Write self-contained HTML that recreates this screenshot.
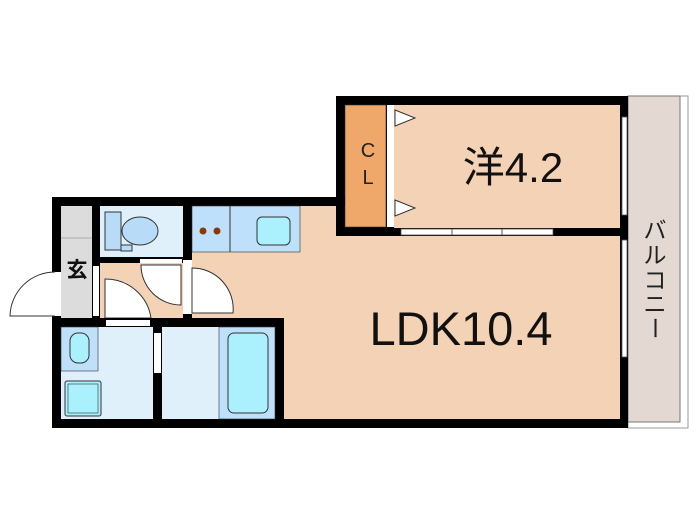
<!DOCTYPE html>
<html><head><meta charset="utf-8"><style>body{margin:0;background:#fff}svg{display:block}</style></head><body>
<svg width="700" height="525" viewBox="0 0 700 525" xmlns="http://www.w3.org/2000/svg" font-family="Liberation Sans, Noto Sans CJK JP, sans-serif">
<rect x="628" y="96" width="60" height="332" fill="#fff" stroke="#999" stroke-width="1"/>
<rect x="628" y="96" width="52" height="326" fill="#e3d9d2" stroke="#777" stroke-width="1"/>
<rect x="192" y="206" width="430" height="214" fill="#f4d2b6"/>
<rect x="336" y="96" width="292" height="140" fill="#000"/>
<rect x="394" y="105" width="226" height="123" fill="#f4d2b6"/>
<rect x="345" y="105" width="41" height="122" fill="#f0a86a" stroke="#333" stroke-width="0.6"/>
<rect x="387" y="105" width="7" height="122" fill="#fff"/>
<polygon points="395,110 415,118 395,126" fill="#fff" stroke="#333"/>
<polygon points="395,200 415,208 395,216" fill="#fff" stroke="#333"/>
<rect x="401" y="229" width="152" height="6" fill="#fff" stroke="#555" stroke-width="0.8"/>
<line x1="452" y1="229" x2="452" y2="235" stroke="#555"/><line x1="502" y1="229" x2="502" y2="235" stroke="#555"/>
<rect x="622" y="117" width="5" height="98" fill="#fff" stroke="#555" stroke-width="0.8"/>
<rect x="183" y="197" width="162" height="9" fill="#000"/>
<rect x="620" y="236" width="8" height="192" fill="#000"/>
<rect x="622" y="240" width="5" height="117" fill="#fff" stroke="#555" stroke-width="0.8"/>
<rect x="52" y="419" width="576" height="9" fill="#000"/>
<rect x="52" y="197" width="140" height="9" fill="#000"/>
<rect x="52" y="197" width="9" height="231" fill="#000"/>
<rect x="53" y="272" width="8" height="44" fill="#fff"/>
<path d="M55,316 L10,316 A45,45 0 0 1 55,272" fill="#fff" stroke="#333" stroke-width="1"/>
<rect x="61" y="206" width="31" height="112" fill="#dcdcdc"/>
<line x1="61" y1="238" x2="92" y2="238" stroke="#aaa"/>
<text x="77" y="277" font-size="21" text-anchor="middle" fill="#111" font-weight="bold">玄</text>
<rect x="92" y="206" width="8" height="112" fill="#000"/>
<rect x="93" y="266" width="6" height="50" fill="#fff"/>
<rect x="100" y="206" width="83" height="54" fill="#dff0fb"/>
<rect x="100" y="257" width="83" height="6" fill="#000"/>
<rect x="140" y="259" width="42" height="6" fill="#fff"/>
<rect x="105" y="212" width="16" height="38" fill="#b8dcf7" stroke="#333"/>
<ellipse cx="140" cy="231" rx="18" ry="14" fill="#b8dcf7" stroke="#333"/>
<rect x="121" y="245" width="11" height="6" fill="#b8dcf7" stroke="#333"/>
<rect x="100" y="263" width="83" height="55" fill="#f4d2b6"/>
<path d="M141,265 A40,40 0 0 0 181,305 L181,265 Z" fill="#fff" stroke="#333"/>
<rect x="183" y="206" width="9" height="54" fill="#000"/>
<rect x="183" y="314" width="9" height="10" fill="#000"/>
<rect x="184" y="268" width="7" height="45" fill="#fff"/>
<path d="M192,268 A41,41 0 0 1 233,313 L192,313 Z" fill="#fff" stroke="#333"/>
<path d="M105,279 A46,46 0 0 1 151,318 L105,318 Z" fill="#fff" stroke="#333"/>
<rect x="192" y="206" width="108" height="46" fill="#bfe0fa" stroke="#333" stroke-width="0.6"/>
<line x1="230" y1="206" x2="230" y2="252" stroke="#333"/>
<circle cx="203" cy="231" r="3.5" fill="#8a3a0a"/><circle cx="217" cy="231" r="3.5" fill="#8a3a0a"/>
<rect x="257" y="217" width="33" height="28" rx="5" fill="#aaf0fd" stroke="#333"/>
<rect x="52" y="318" width="232" height="9" fill="#000"/>
<rect x="106" y="320" width="44" height="6" fill="#fff"/>
<rect x="275" y="318" width="9" height="110" fill="#000"/>
<rect x="61" y="327" width="92" height="92" fill="#dff0fb"/>
<rect x="61" y="327" width="37" height="44" fill="#bfe0fa" stroke="#333" stroke-width="0.6"/>
<rect x="70" y="333" width="19" height="30" rx="8" fill="#aaf0fd" stroke="#333"/>
<rect x="65" y="381" width="36" height="35" rx="2" fill="#aaf0fd" stroke="#333"/>
<rect x="68" y="384" width="30" height="29" fill="#aaf0fd" stroke="#333" stroke-width="0.6"/>
<rect x="153" y="327" width="9" height="92" fill="#000"/>
<rect x="154" y="333" width="7" height="40" fill="#fff"/>
<polygon points="163,333 178,338 163,343" fill="#fff" stroke="#333"/>
<rect x="162" y="327" width="113" height="92" fill="#dff0fb"/>
<rect x="219" y="327" width="56" height="92" fill="#bfe0fa" stroke="#333" stroke-width="0.6"/>
<rect x="228" y="333" width="40" height="80" rx="6" fill="#aaf0fd" stroke="#333"/>
<text x="368" y="157" font-size="20" text-anchor="middle" fill="#222">C</text>
<text x="368" y="184" font-size="20" text-anchor="middle" fill="#222">L</text>
<text x="513" y="182" font-size="42" text-anchor="middle" fill="#111">洋4.2</text>
<text x="461" y="345" font-size="47" text-anchor="middle" fill="#111">LDK10.4</text>
<g font-size="23" fill="#222" text-anchor="middle">
<text x="655" y="238">バ</text><text x="655" y="263">ル</text><text x="655" y="288">コ</text><text x="655" y="312">ニ</text><text x="655" y="336" transform="rotate(90 655 328)">ー</text>
</g>
</svg>
</body></html>
